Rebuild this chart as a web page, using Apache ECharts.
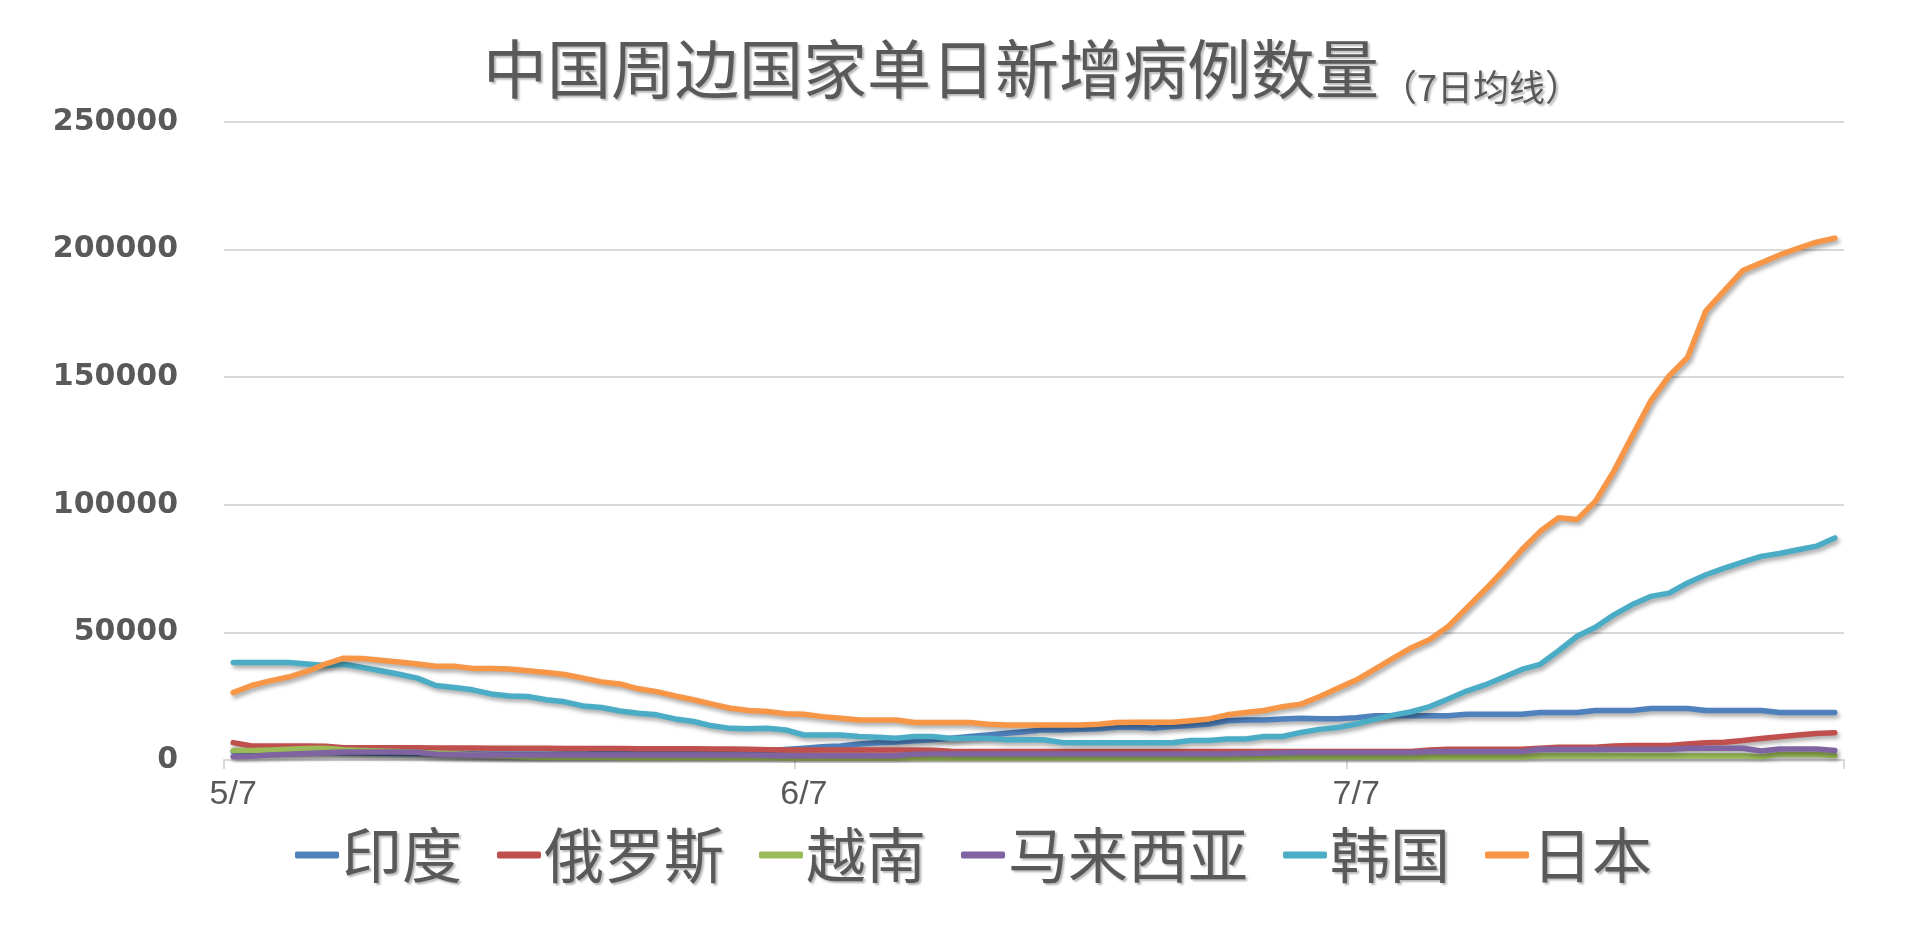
<!DOCTYPE html>
<html>
<head>
<meta charset="utf-8">
<script src="https://cdn.jsdelivr.net/npm/echarts@6/dist/echarts.min.js"></script>
<style>
html,body{margin:0;padding:0;background:#fff;}
#main{width:1920px;height:930px;}
</style>
</head>
<body>
<div id="main"></div>
<script>
const dates = ['5/7','5/8','5/9','5/10','5/11','5/12','5/13','5/14','5/15','5/16','5/17','5/18','5/19','5/20','5/21','5/22','5/23','5/24','5/25','5/26','5/27','5/28','5/29','5/30','5/31',
'6/1','6/2','6/3','6/4','6/5','6/6','6/7','6/8','6/9','6/10','6/11','6/12','6/13','6/14','6/15','6/16','6/17','6/18','6/19','6/20','6/21','6/22','6/23','6/24','6/25','6/26','6/27','6/28','6/29','6/30',
'7/1','7/2','7/3','7/4','7/5','7/6','7/7','7/8','7/9','7/10','7/11','7/12','7/13','7/14','7/15','7/16','7/17','7/18','7/19','7/20','7/21','7/22','7/23','7/24','7/25','7/26','7/27','7/28','7/29','7/30','7/31',
'8/1','8/2'];
const labeledDates = ['5/7','6/7','7/7'];
const seriesNames = ['印度','俄罗斯','越南','马来西亚','韩国','日本'];
const india = [3300,3300,3200,3100,3000,2900,2800,2700,2600,2500,
 2500,2400,2400,2400,2300,2300,2300,2300,2400,2400,
 2500,2500,2600,2600,2700,2700,2800,2900,3000,3600,
 4100,4600,5200,5500,6300,6800,7100,7500,7900,8500,
 9200,9800,10500,11100,11800,11800,12000,12200,12800,12800,
 12400,13100,13500,14100,15400,15700,15700,16100,16400,16200,
 16200,16600,17300,17300,17300,17300,17300,17900,17900,17900,
 17900,18600,18600,18600,19400,19400,19400,20200,20200,20200,
 19400,19400,19400,19400,18600,18600,18600,18600];
const russia = [6800,5500,5500,5500,5500,5400,4800,4800,4800,4800,
 4800,4700,4700,4700,4600,4600,4600,4600,4500,4500,
 4500,4500,4400,4400,4400,4400,4300,4300,4200,4000,
 3900,3900,3900,3900,3900,3900,3900,3900,3800,3400,
 3300,3300,3300,3300,3300,3300,3300,3300,3300,3300,
 3300,3300,3300,3300,3300,3300,3300,3300,3300,3300,
 3300,3300,3300,3300,3300,3900,4200,4200,4200,4200,
 4200,4600,5000,5000,5000,5500,5700,5700,5700,6300,
 6800,7000,7600,8400,9100,9800,10400,10700];
const vietnam = [3700,3700,3900,4200,4500,4600,4000,3700,3500,3300,
 3000,2700,2400,2100,1800,1500,1200,1100,1100,1100,
 1100,1000,1000,1000,1000,1000,1000,900,900,900,
 800,800,800,800,800,800,800,800,800,800,
 800,800,800,800,800,800,800,800,800,800,
 800,800,800,800,800,900,1000,1200,1200,1200,
 1200,1200,1200,1200,1200,1200,1200,1200,1200,1200,
 1200,1600,1600,1600,1600,1600,1600,1600,1600,1600,
 1600,1600,1600,1300,2200,2200,2200,1800];
const malaysia = [1300,1500,2000,2300,2500,2800,3100,3100,3100,3100,
 3000,2300,2100,2000,2000,2000,2000,2000,2000,2000,
 2000,2000,2000,2000,2000,2000,2000,2000,2000,1800,
 1700,1700,1700,1700,1700,1700,1700,2300,2400,2400,
 2400,2400,2400,2400,2400,2400,2400,2400,2400,2400,
 2400,2400,2400,2400,2400,2500,2600,2800,2900,2900,
 2900,2900,2900,2900,2900,3300,3300,3300,3300,3300,
 3300,4200,4200,4200,4200,4200,4200,4200,4200,4600,
 4600,4600,4600,3500,4300,4300,4300,3700];
const korea = [38200,38200,38200,38200,37600,37000,37500,36300,35000,33600,
 32100,29200,28400,27500,25900,25100,24900,23600,22800,21200,
 20600,19200,18300,17700,16100,15100,13400,12400,12200,12400,
 11800,9800,9800,9800,9200,8900,8500,9200,9200,8400,
 8500,8500,7900,7900,7900,6900,6800,6800,6800,6800,
 6800,6800,7600,7600,8200,8200,9200,9200,10800,12000,
 12700,14100,15900,17600,18900,20900,23900,27000,29400,32400,
 35500,37500,42800,48500,52000,56900,60900,64100,65400,69400,
 72600,75200,77500,79800,80900,82400,83800,87000];
const japan = [26400,29200,31000,32500,34700,37600,39900,39800,39100,38400,
 37600,36700,36700,35900,35900,35700,35000,34300,33500,32100,
 30600,29800,27900,26800,25100,23600,21900,20300,19400,19000,
 18100,17900,17000,16400,15700,15700,15700,14700,14700,14700,
 14700,14000,13700,13700,13700,13700,13700,14000,14700,14800,
 14800,14800,15400,16100,17700,18600,19400,20900,21900,24800,
 28100,31300,35500,39800,44000,47200,52300,59500,66700,74300,
 82400,89600,94900,94200,101400,113200,127000,140700,150500,157700,
 176000,183900,191800,194800,197900,200500,202900,204500];
const yTicks = [0,50000,100000,150000,200000,250000];

const colors = ['#4F81BD','#C0504D','#9BBB59','#8064A2','#4BACC6','#F79646'];
const dataSets = [india, russia, vietnam, malaysia, korea, japan];
const textGray = '#595959';
const shadowText = {textShadowColor:'rgba(0,0,0,0.28)', textShadowOffsetX:2, textShadowOffsetY:2, textShadowBlur:2};

const chart = echarts.init(document.getElementById('main'), null, {renderer:'canvas'});
const showLabel = (idx, val) => labeledDates.indexOf(val) >= 0;

chart.setOption({
  animation: false,
  backgroundColor: '#fff',
  color: colors,
  title: {
    text: '{a|中国周边国家单日新增病例数量}{b|（7日均线）}',
    left: 478,
    top: 28,
    textStyle: {
      fontWeight: 'normal',
      rich: {
        a: Object.assign({fontFamily:'Noto Sans CJK SC', fontWeight:'normal', fontSize:64, color:textGray, lineHeight:72}, shadowText),
        b: Object.assign({fontFamily:'Noto Sans CJK SC', fontWeight:'normal', fontSize:36, color:textGray, verticalAlign:'bottom', lineHeight:54, padding:[0,0,0,2]}, shadowText)
      }
    }
  },
  legend: {
    data: seriesNames,
    left: 290,
    top: 820,
    icon: 'roundRect',
    itemWidth: 44,
    itemHeight: 7,
    itemGap: 35,
    textStyle: Object.assign({fontFamily:'Noto Sans CJK SC', fontWeight:'normal', fontSize:60, color:textGray, padding:[0,0,0,-2]}, shadowText)
  },
  grid: {left: 224, right: 76, top: 122, bottom: 170, containLabel: false},
  xAxis: {
    type: 'category',
    data: dates,
    boundaryGap: true,
    axisLine: {show:true, lineStyle:{color:'#d9d9d9', width:2}},
    axisTick: {show:true, interval: showLabel, length: 9, lineStyle:{color:'#d9d9d9', width:2}},
    axisLabel: {interval: showLabel, margin: 18, color: textGray, fontSize: 34, fontFamily: 'Liberation Sans Narrow, Arial Narrow, Liberation Sans, sans-serif'},
    splitLine: {show:false}
  },
  yAxis: {
    type: 'value',
    min: yTicks[0],
    max: yTicks[yTicks.length-1],
    interval: yTicks[1]-yTicks[0],
    axisLine: {show:false},
    axisTick: {show:false},
    axisLabel: {margin: 46, color: textGray, fontSize: 30, fontWeight: 'bold', fontFamily: 'DejaVu Sans', formatter: v => String(v)},
    splitLine: {show:true, lineStyle:{color:'#d9d9d9', width:2}}
  },
  series: seriesNames.map((name, k) => ({
    name: name,
    type: 'line',
    data: dataSets[k],
    symbol: 'none',
    showSymbol: false,
    smooth: false,
    lineStyle: {width: 5.5, color: colors[k], cap: 'round', join: 'round',
      shadowColor: 'rgba(0,0,0,0.35)', shadowBlur: 4, shadowOffsetX: 2, shadowOffsetY: 3},
    itemStyle: {color: colors[k]}
  }))
});
</script>
</body>
</html>
